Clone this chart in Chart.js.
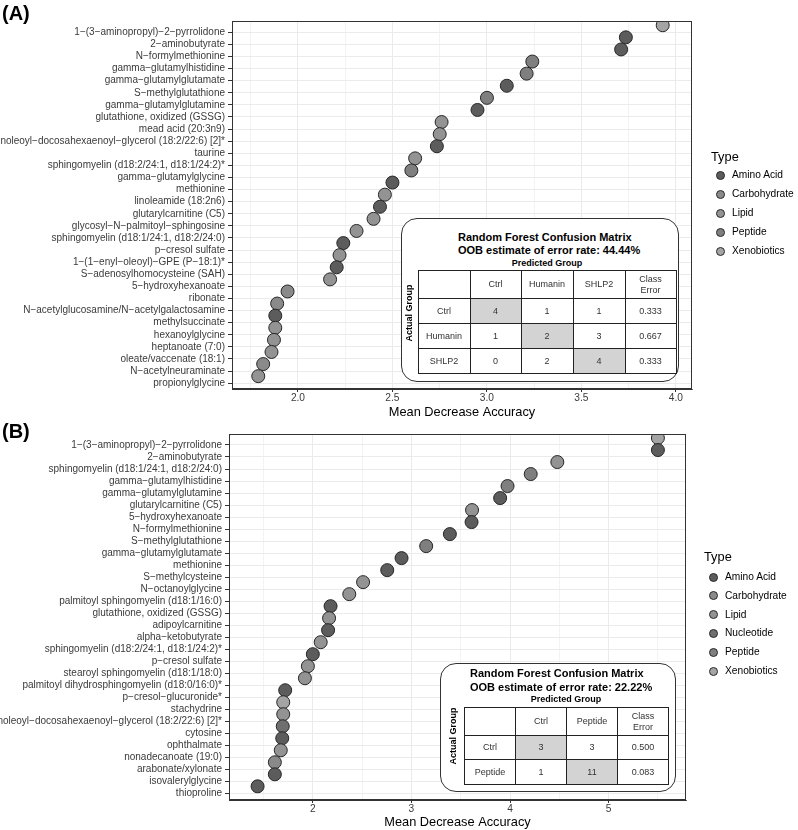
<!DOCTYPE html>
<html>
<head>
<meta charset="utf-8">
<script src="https://cdn.jsdelivr.net/npm/chart.js@4.4.1/dist/chart.umd.min.js"></script>
<style>
  body { margin: 0; background: #fff; font-family: "Liberation Sans", Arial, Helvetica, sans-serif; }
  #wrap { position: relative; width: 798px; height: 830px; overflow: hidden; }
  canvas { position: absolute; left: 0; }
  .tag { position: absolute; left: 2px; font-weight: bold; font-size: 20px; line-height: 20px; }
  .lg-title { position: absolute; font-size: 12.8px; line-height: 14px; }
  .key { position: absolute; width: 9px; height: 9px; border-radius: 50%; box-sizing: border-box; border: 1px solid #2a2a2a; }
  .key-label { position: absolute; font-size: 10.2px; line-height: 12px; white-space: nowrap; }
  .cm { position: absolute; border: 1.4px solid #333; border-radius: 16px; box-sizing: border-box; background: #fff; }
  .cm .t { position: absolute; font-weight: bold; font-size: 11px; line-height: 13px; white-space: nowrap; }
  .cm .pg { position: absolute; font-weight: bold; font-size: 9px; line-height: 11px; white-space: nowrap; transform: translateX(-50%); }
  .cm .ag { position: absolute; font-weight: bold; font-size: 9px; line-height: 11px; white-space: nowrap; transform: translate(-50%, -50%) rotate(-90deg); }
  .cm table { position: absolute; border-collapse: collapse; table-layout: fixed; }
  .cm td { border: 1.2px solid #222; text-align: center; vertical-align: middle; font-size: 9px; line-height: 11px; color: #333; padding: 0; }
  .cm td.diag { background: #d3d3d3; }
</style>
</head>
<body>
<div id="wrap">
  <canvas id="chartA" width="798" height="420" style="top:0"></canvas>
  <canvas id="chartB" width="798" height="410" style="top:420px"></canvas>
  <div class="tag" style="top:3px">(A)</div>
  <div class="tag" style="top:421px">(B)</div>
</div>
<script>
// ---- panel A data ----
const labelsA = [
  '1−(3−aminopropyl)−2−pyrrolidone', '2−aminobutyrate', 'N−formylmethionine',
  'gamma−glutamylhistidine', 'gamma−glutamylglutamate', 'S−methylglutathione',
  'gamma−glutamylglutamine', 'glutathione, oxidized (GSSG)', 'mead acid (20:3n9)',
  'linoleoyl−docosahexaenoyl−glycerol (18:2/22:6) [2]*', 'taurine',
  'sphingomyelin (d18:2/24:1, d18:1/24:2)*', 'gamma−glutamylglycine', 'methionine',
  'linoleamide (18:2n6)', 'glutarylcarnitine (C5)', 'glycosyl−N−palmitoyl−sphingosine',
  'sphingomyelin (d18:1/24:1, d18:2/24:0)', 'p−cresol sulfate', '1−(1−enyl−oleoyl)−GPE (P−18:1)*',
  'S−adenosylhomocysteine (SAH)', '5−hydroxyhexanoate', 'ribonate',
  'N−acetylglucosamine/N−acetylgalactosamine', 'methylsuccinate', 'hexanoylglycine',
  'heptanoate (7:0)', 'oleate/vaccenate (18:1)', 'N−acetylneuraminate', 'propionylglycine'
];
const valuesA = [3.93, 3.735, 3.71, 3.24, 3.21, 3.105, 3.00, 2.95, 2.76, 2.75, 2.735, 2.62, 2.60, 2.50,
  2.46, 2.434, 2.40, 2.31, 2.24, 2.22, 2.205, 2.17, 1.945, 1.89, 1.88, 1.88, 1.873, 1.86, 1.816, 1.79];
const typesA = ['Xenobiotics', 'Amino Acid', 'Amino Acid', 'Peptide', 'Peptide', 'Amino Acid', 'Peptide',
  'Amino Acid', 'Lipid', 'Lipid', 'Amino Acid', 'Lipid', 'Peptide', 'Amino Acid', 'Lipid', 'Amino Acid',
  'Lipid', 'Lipid', 'Amino Acid', 'Lipid', 'Amino Acid', 'Lipid', 'Carbohydrate', 'Carbohydrate',
  'Amino Acid', 'Lipid', 'Lipid', 'Lipid', 'Carbohydrate', 'Lipid'];
const legendA = ['Amino Acid', 'Carbohydrate', 'Lipid', 'Peptide', 'Xenobiotics'];
const xMajorA = [2.0, 2.5, 3.0, 3.5, 4.0];
const xTickLabelsA = ['2.0', '2.5', '3.0', '3.5', '4.0'];
const xMinorA = [1.75, 2.25, 2.75, 3.25, 3.75];
const cmGroupsA = ['Ctrl', 'Humanin', 'SHLP2'];
const cmCountsA = [[4, 1, 1], [1, 2, 3], [0, 2, 4]];
const cmErrorA = ['0.333', '0.667', '0.333'];
const oobA = '44.44%';

// ---- panel B data ----
const labelsB = [
  '1−(3−aminopropyl)−2−pyrrolidone', '2−aminobutyrate', 'sphingomyelin (d18:1/24:1, d18:2/24:0)',
  'gamma−glutamylhistidine', 'gamma−glutamylglutamine', 'glutarylcarnitine (C5)', '5−hydroxyhexanoate',
  'N−formylmethionine', 'S−methylglutathione', 'gamma−glutamylglutamate', 'methionine',
  'S−methylcysteine', 'N−octanoylglycine', 'palmitoyl sphingomyelin (d18:1/16:0)',
  'glutathione, oxidized (GSSG)', 'adipoylcarnitine', 'alpha−ketobutyrate',
  'sphingomyelin (d18:2/24:1, d18:1/24:2)*', 'p−cresol sulfate', 'stearoyl sphingomyelin (d18:1/18:0)',
  'palmitoyl dihydrosphingomyelin (d18:0/16:0)*', 'p−cresol−glucuronide*', 'stachydrine',
  'linoleoyl−docosahexaenoyl−glycerol (18:2/22:6) [2]*', 'cytosine', 'ophthalmate',
  'nonadecanoate (19:0)', 'arabonate/xylonate', 'isovalerylglycine', 'thioproline'
];
const valuesB = [5.50, 5.50, 4.48, 4.21, 3.975, 3.90, 3.615, 3.61, 3.39, 3.15, 2.90, 2.755, 2.51, 2.37,
  2.18, 2.165, 2.155, 2.08, 2.00, 1.95, 1.92, 1.72, 1.70, 1.70, 1.695, 1.69, 1.675, 1.615, 1.615, 1.44];
const typesB = ['Xenobiotics', 'Amino Acid', 'Lipid', 'Peptide', 'Peptide', 'Amino Acid', 'Lipid',
  'Amino Acid', 'Amino Acid', 'Peptide', 'Amino Acid', 'Amino Acid', 'Lipid', 'Lipid', 'Amino Acid',
  'Lipid', 'Amino Acid', 'Lipid', 'Amino Acid', 'Lipid', 'Lipid', 'Amino Acid', 'Xenobiotics', 'Lipid',
  'Nucleotide', 'Amino Acid', 'Lipid', 'Carbohydrate', 'Amino Acid', 'Amino Acid'];
const legendB = ['Amino Acid', 'Carbohydrate', 'Lipid', 'Nucleotide', 'Peptide', 'Xenobiotics'];
const xMajorB = [2, 3, 4, 5];
const xTickLabelsB = ['2', '3', '4', '5'];
const xMinorB = [1.5, 2.5, 3.5, 4.5, 5.5];
const cmGroupsB = ['Ctrl', 'Peptide'];
const cmCountsB = [[3, 3], [1, 11]];
const cmErrorB = ['0.500', '0.083'];
const oobB = '22.22%';

const typeColors = {
  'Amino Acid': '#5c5c5c',
  'Carbohydrate': '#8a8a8a',
  'Lipid': '#939393',
  'Nucleotide': '#6f6f6f',
  'Peptide': '#7f7f7f',
  'Xenobiotics': '#a4a4a4'
};

const FONT = '"Liberation Sans", Arial, Helvetica, sans-serif';
const NUDGE = 0.58; // points sit a bit above their label rows in the original

// full box round the panel (ggplot panel.border)
const panelBorder = {
  id: 'panelBorder',
  afterDatasetsDraw(chart) {
    const a = chart.chartArea, ctx = chart.ctx;
    ctx.save();
    ctx.strokeStyle = '#333';
    ctx.lineWidth = 1;
    ctx.strokeRect(Math.round(a.left) + 0.5, Math.round(a.top) + 0.5,
      Math.round(a.right - a.left) - 1, Math.round(a.bottom - a.top) - 1);
    ctx.restore();
  }
};

function dotChart(id, c) {
  const pts = c.values.map((v, i) => ({ x: v, y: i + 1 - NUDGE }));
  const ticksX = c.major.concat(c.minor).sort((a, b) => a - b);
  const isMajor = v => c.major.indexOf(v) >= 0;
  return new Chart(document.getElementById(id), {
    type: 'scatter',
    data: {
      datasets: [{
        data: pts,
        pointRadius: 6.5,
        pointHoverRadius: 6.5,
        pointBackgroundColor: c.types.map(t => typeColors[t]),
        pointBorderColor: '#262626',
        pointBorderWidth: 1,
        clip: 0
      }]
    },
    options: {
      responsive: false,
      animation: false,
      devicePixelRatio: 1,
      layout: { padding: { left: 0, right: c.padRight, top: c.padTop, bottom: 0 } },
      plugins: { legend: { display: false }, tooltip: { enabled: false } },
      scales: {
        x: {
          type: 'linear', position: 'bottom', min: c.xMin, max: c.xMax,
          afterBuildTicks: s => { s.ticks = ticksX.map(v => ({ value: v })); },
          afterFit: s => { s.height = c.xAxisH; },
          ticks: {
            autoSkip: false, maxRotation: 0, padding: 0,
            color: '#3a3a3a', font: { family: FONT, size: 10.2 },
            callback: v => { const i = c.major.indexOf(v); return i >= 0 ? c.tickLabels[i] : ''; }
          },
          grid: {
            color: '#ebebeb',
            lineWidth: ctx => (ctx.tick && isMajor(ctx.tick.value)) ? 1 : 0.6,
            tickLength: 3,
            tickColor: ctx => (ctx.tick && isMajor(ctx.tick.value)) ? '#333' : 'rgba(0,0,0,0)'
          },
          border: { color: '#333', width: 1 },
          title: { display: true, text: 'Mean Decrease Accuracy', color: '#000',
            font: { family: FONT, size: 12.8 }, padding: 0 }
        },
        y: {
          type: 'linear', reverse: true, min: c.yMin, max: c.yMax,
          afterBuildTicks: s => { s.ticks = c.labels.map((_, i) => ({ value: i + 1 })); },
          afterFit: s => { s.width = c.left; },
          ticks: {
            autoSkip: false, padding: 3,
            color: '#3a3a3a', font: { family: FONT, size: 10 },
            callback: v => c.labels[v - 1]
          },
          grid: { color: '#ebebeb', lineWidth: 1, tickLength: 4, tickColor: '#333' },
          border: { color: '#333', width: 1 }
        }
      }
    },
    plugins: [panelBorder]
  });
}

function legend(types, L) {
  const wrap = document.getElementById('wrap');
  const t = document.createElement('div');
  t.className = 'lg-title';
  t.textContent = 'Type';
  t.style.left = L.titleX + 'px';
  t.style.top = (L.titleY - 7) + 'px';
  wrap.appendChild(t);
  types.forEach((name, i) => {
    const y = L.y0 + i * L.step;
    const k = document.createElement('div');
    k.className = 'key';
    k.style.left = (L.keyX - 4.5) + 'px';
    k.style.top = (y - 4.5) + 'px';
    k.style.background = typeColors[name];
    wrap.appendChild(k);
    const s = document.createElement('div');
    s.className = 'key-label';
    s.textContent = name;
    s.style.left = L.textX + 'px';
    s.style.top = (y - 6) + 'px';
    wrap.appendChild(s);
  });
}

function confusion(groups, counts, errors, oob, B) {
  const wrap = document.getElementById('wrap');
  const box = document.createElement('div');
  box.className = 'cm';
  Object.assign(box.style, { left: B.x + 'px', top: B.y + 'px', width: B.w + 'px', height: B.h + 'px' });
  const line = (txt, y) => {
    const d = document.createElement('div');
    d.className = 't';
    d.textContent = txt;
    d.style.left = B.titleX + 'px';
    d.style.top = (y - 6.5) + 'px';
    box.appendChild(d);
  };
  line('Random Forest Confusion Matrix', B.t1);
  line('OOB estimate of error rate: ' + oob, B.t2);
  const pg = document.createElement('div');
  pg.className = 'pg';
  pg.textContent = 'Predicted Group';
  pg.style.left = B.pgX + 'px';
  pg.style.top = (B.t3 - 5.5) + 'px';
  box.appendChild(pg);
  const ag = document.createElement('div');
  ag.className = 'ag';
  ag.textContent = 'Actual Group';
  ag.style.left = B.agX + 'px';
  ag.style.top = B.agY + 'px';
  box.appendChild(ag);

  const tb = document.createElement('table');
  tb.style.left = B.tx + 'px';
  tb.style.top = B.ty + 'px';
  const cols = document.createElement('colgroup');
  B.colW.forEach(w => { const c = document.createElement('col'); c.style.width = w + 'px'; cols.appendChild(c); });
  tb.appendChild(cols);
  const head = document.createElement('tr');
  head.style.height = B.headH + 'px';
  ['', ...groups, 'Class<br>Error'].forEach(h => { const td = document.createElement('td'); td.innerHTML = h; head.appendChild(td); });
  tb.appendChild(head);
  groups.forEach((g, r) => {
    const tr = document.createElement('tr');
    tr.style.height = B.rowH + 'px';
    const cells = [g, ...counts[r], errors[r]];
    cells.forEach((v, ci) => {
      const td = document.createElement('td');
      td.textContent = v;
      if (ci === r + 1) td.className = 'diag';
      tr.appendChild(td);
    });
    tb.appendChild(tr);
  });
  box.appendChild(tb);
  wrap.appendChild(box);
}

dotChart('chartA', {
  labels: labelsA, values: valuesA, types: typesA,
  major: xMajorA, minor: xMinorA, tickLabels: xTickLabelsA,
  xMin: 1.651, xMax: 4.085, yMin: 0.07, yMax: 30.48,
  left: 232, padRight: 106, padTop: 21, xAxisH: 31
});
dotChart('chartB', {
  labels: labelsB, values: valuesB, types: typesB,
  major: xMajorB, minor: xMinorB, tickLabels: xTickLabelsB,
  xMin: 1.15, xMax: 5.785, yMin: 0.11, yMax: 30.56,
  left: 229, padRight: 112, padTop: 14.3, xAxisH: 30
});

legend(legendA, { titleX: 711, titleY: 157, keyX: 720, textX: 732, y0: 175, step: 19 });
legend(legendB, { titleX: 704, titleY: 557, keyX: 713, textX: 725, y0: 577, step: 18.8 });

confusion(cmGroupsA, cmCountsA, cmErrorA, oobA, {
  x: 401, y: 218, w: 278, h: 164, titleX: 56, t1: 18, t2: 31.5, t3: 44,
  pgX: 145, agX: 7, agY: 94, tx: 15.5, ty: 51, colW: [52, 51, 52, 52, 51], headH: 28, rowH: 25
});
confusion(cmGroupsB, cmCountsB, cmErrorB, oobB, {
  x: 440, y: 663, w: 236, h: 129, titleX: 29, t1: 9.7, t2: 23.7, t3: 35.7,
  pgX: 125, agX: 11.5, agY: 72, tx: 23, ty: 43, colW: [51, 51, 51, 51], headH: 28, rowH: 24.4
});
</script>
</body>
</html>
